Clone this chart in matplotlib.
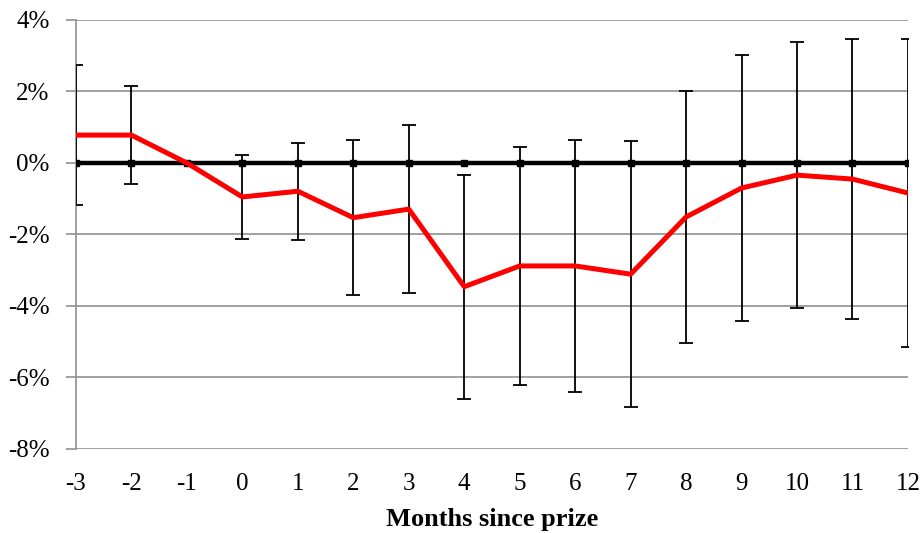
import matplotlib.pyplot as plt
from matplotlib.ticker import FuncFormatter

months = [-3, -2, -1, 0, 1, 2, 3, 4, 5, 6, 7, 8, 9, 10, 11, 12]
# effect in percent, with half-width of the confidence interval
effect = [0.78, 0.78, 0.0, -0.95, -0.79, -1.53, -1.29, -3.46, -2.88, -2.88,
          -3.11, -1.51, -0.70, -0.34, -0.45, -0.84]
ci = [1.96, 1.37, 0.0, 1.17, 1.36, 2.16, 2.35, 3.13, 3.33, 3.52,
      3.72, 3.53, 3.72, 3.72, 3.92, 4.31]
baseline = [0] * len(months)

plt.rcParams['font.family'] = ['Liberation Serif', 'DejaVu Serif']
plt.rcParams['axes.unicode_minus'] = False

fig = plt.figure(figsize=(9.23, 5.33), dpi=100)
ax = fig.add_axes([0.0823, 0.1576, 0.9014, 0.8049])

ax.yaxis.grid(True, color='#999999', linewidth=1.3)
ax.set_axisbelow(True)

ax.plot(months, baseline, color='black', linewidth=3.2, zorder=3)
ax.plot(months, baseline, linestyle='none', color='black', marker='s',
        markersize=4, zorder=3)
ax.errorbar(months, effect, yerr=ci, fmt='none', ecolor='black',
            elinewidth=1.3, capsize=5, capthick=1.3, zorder=4)
ax.plot(months, effect, color='#ff0000', linewidth=3.6, zorder=5)

ax.set_xlim(-3, 12)
ax.set_ylim(-8, 4)
ax.set_xticks(months)
ax.set_yticks(range(-8, 5, 2))
ax.yaxis.set_major_formatter(FuncFormatter(lambda v, p: '%d%%' % v))

for s in ['top', 'right', 'bottom']:
    ax.spines[s].set_visible(False)
ax.spines['left'].set_color('#999999')
ax.spines['left'].set_linewidth(1.3)

ax.tick_params(axis='y', length=7, width=1.3, color='#999999',
               labelsize=18, pad=12)
ax.tick_params(axis='x', length=0, labelsize=18, pad=17)

ax.set_xlabel('Months since prize', fontsize=19, fontweight='bold',
              labelpad=10)

fig.savefig('out.png', dpi=100)
